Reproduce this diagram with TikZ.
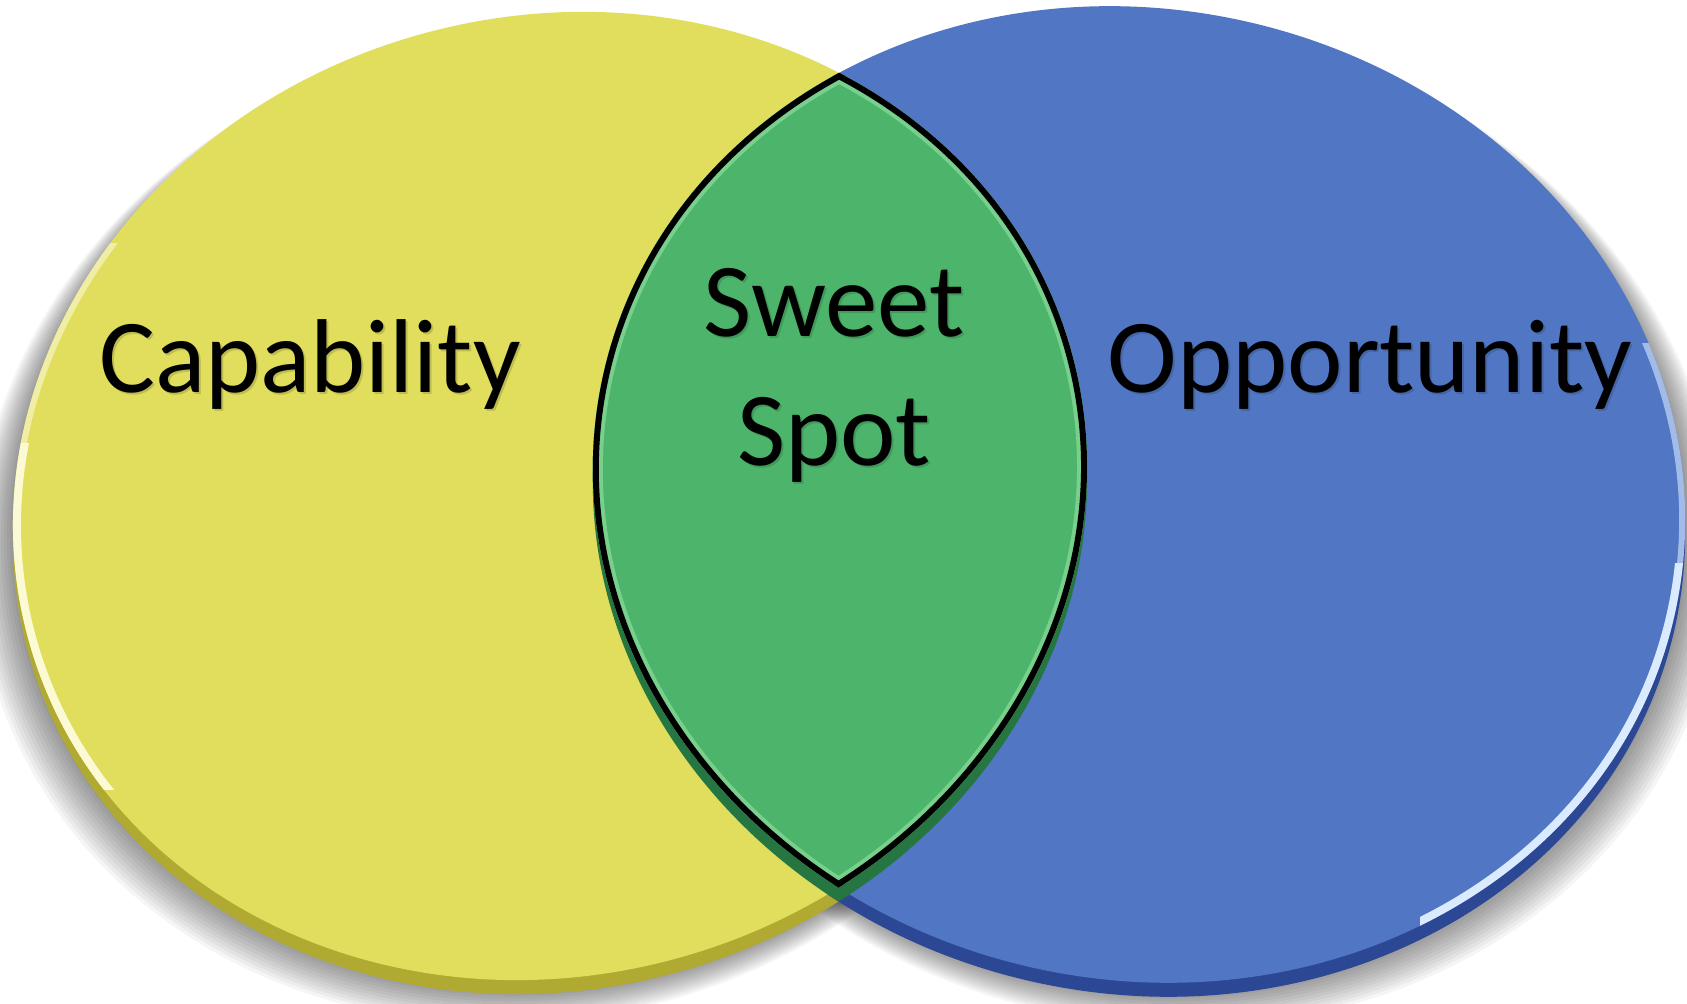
\documentclass[tikz,border=0pt]{standalone}
\usepackage{fontspec}
\setmainfont{Carlito}
\definecolor{capyellow}{RGB}{224,222,92}
\definecolor{capedge}{RGB}{176,170,50}
\definecolor{oppblue}{RGB}{81,119,196}
\definecolor{oppedge}{RGB}{44,72,148}
\definecolor{sweetgreen}{RGB}{76,181,107}
\definecolor{sweetedge}{RGB}{38,118,66}
\definecolor{sweetlight}{RGB}{120,208,140}
\definecolor{rimcream}{RGB}{252,250,212}
\definecolor{rimblue}{RGB}{218,234,255}
\begin{document}
\begin{tikzpicture}[x=0.5pt,y=0.5pt,
  setlabel/.style={font=\fontsize{52.5}{64.5}\selectfont, text=black, inner sep=0pt, anchor=base},
  shadowlabel/.style={setlabel, text=black, opacity=0.15}]
\fill[white] (0,0) rectangle (1687,1004);
\useasboundingbox (0,0) rectangle (1687,1004);
\def\yellowpath{(550,508) ellipse [x radius=541, y radius=479.5, rotate=15.3]}
\def\bluepath{(1139,509.5) ellipse [x radius=549, y radius=485, rotate=-12.6]}
\def\yellowedgepath{(550,494) ellipse [x radius=541, y radius=479.5, rotate=15.3]}
\def\blueedgepath{(1139,495.5) ellipse [x radius=549, y radius=485, rotate=-12.6]}
% soft shadows
\foreach \k [evaluate=\k as \rxa using 541+\k*1.8, evaluate=\k as \rya using 479.5+\k*1.2,
             evaluate=\k as \rxb using 549+\k*1.8, evaluate=\k as \ryb using 485+\k*1.2,
             evaluate=\k as \dy using 10+\k*1.6] in {1,...,12} {
  \fill[black, opacity=0.04] (550-\k*1.3, 508-\dy) ellipse [x radius=\rxa, y radius=\rya, rotate=15.3];
  \fill[black, opacity=0.04] (1139+\k*1.3, 509.5-\dy) ellipse [x radius=\rxb, y radius=\ryb, rotate=-12.6];
}
% thickness of the discs
\fill[capedge] \yellowedgepath;
\fill[oppedge] \blueedgepath;
% yellow face
\fill[capyellow] \yellowpath;
\begin{scope}
  \clip \yellowpath;
  \begin{scope}
    \clip (0,214) rectangle (330,560);
    \draw[rimcream, line width=8] \yellowpath;
  \end{scope}
  \begin{scope}
    \clip (0,560) rectangle (330,760);
    \draw[rimcream, line width=6, opacity=0.6] \yellowpath;
  \end{scope}
\end{scope}
% blue face
\fill[oppblue] \bluepath;
\begin{scope}
  \clip \bluepath;
  \begin{scope}
    \clip (1420,0) rectangle (1687,440);
    \draw[rimblue, line width=8] \bluepath;
  \end{scope}
  \begin{scope}
    \clip (1420,440) rectangle (1687,660);
    \draw[rimblue, line width=6, opacity=0.6] \bluepath;
  \end{scope}
\end{scope}
% green lens thickness
\begin{scope}
  \clip \yellowedgepath;
  \fill[sweetedge] \blueedgepath;
\end{scope}
% green lens face
\begin{scope}
  \clip \yellowpath;
  \fill[sweetgreen] \bluepath;
\end{scope}
% lens outline
\begin{scope}
  \clip \bluepath;
  \clip \yellowpath;
  \draw[sweetlight, line width=10] \yellowpath;
  \draw[sweetlight, line width=10] \bluepath;
  \draw[black, line width=6] \yellowpath;
  \draw[black, line width=6] \bluepath;
\end{scope}
% labels
\node[shadowlabel] (capshadow) at (312,609) {Capability};
\node[shadowlabel] (oppshadow) at (1372,609) {Opportunity};
\node[shadowlabel] (sweetshadow) at (836,665) {Sweet};
\node[shadowlabel] (spotshadow) at (836,536) {Spot};
\node[setlabel] (cap) at (310,611) {Capability};
\node[setlabel] (opp) at (1370,611) {Opportunity};
\node[setlabel] (sweet) at (834,667) {Sweet};
\node[setlabel] (spot) at (834,538) {Spot};
\end{tikzpicture}
\end{document}
